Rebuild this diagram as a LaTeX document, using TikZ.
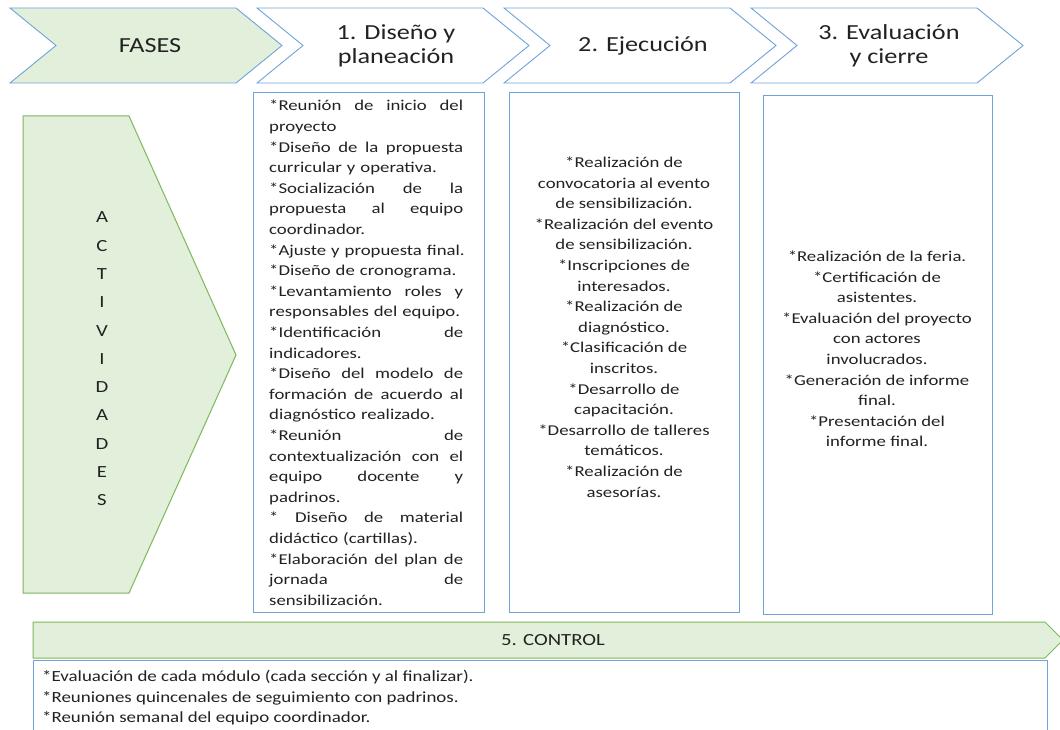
\documentclass[tikz,border=0pt]{standalone}
\usepackage{fontspec}
\setmainfont{Carlito}[FakeStretch=1.22]
\newfontfamily\listfont{Carlito}[FakeStretch=1.25]

\definecolor{phaseblue}{HTML}{6FA3DA}
\definecolor{leafgreen}{HTML}{7DB85A}
\definecolor{palegreen}{HTML}{E2EFDA}
\definecolor{ink}{HTML}{222222}

\newlength\colw
\setlength\colw{194pt}
% a fully justified line of the first column: spaces stretch to fill it
\newcommand\jline[1]{\leavevmode\hbox to\colw{\spaceskip=0.25em plus 1fil\relax #1}}
% the item marker
\newcommand\bul{*}

\tikzset{
  phase/.style={draw=phaseblue, line width=0.9pt, fill=white, line join=miter},
  phasegreen/.style={draw=phaseblue, line width=0.9pt, fill=palegreen},
  greenarrow/.style={draw=leafgreen, line width=1pt, fill=palegreen},
  listbox/.style={draw=phaseblue, line width=0.9pt, fill=white},
  headtext/.style={text=ink, inner sep=0pt, align=center, font=\fontsize{21.5}{24}\selectfont},
  itemtext/.style={text=ink, inner sep=0pt, font=\listfont\fontsize{15}{20.6}\selectfont},
}

\begin{document}
\begin{tikzpicture}[x=1pt, y=-1pt]
\clip (0,0) rectangle (1060,730);
\fill[white] (0,0) rectangle (1060,730);

% phase chevrons along the top
\draw[phasegreen] (10,8) -- (236,8) -- (282,45.5) -- (236,83) -- (10,83) -- (56,45.5) -- cycle;
\draw[phase] (257,8) -- (483,8) -- (529,45.5) -- (483,83) -- (257,83) -- (303,45.5) -- cycle;
\draw[phase] (504,8) -- (730,8) -- (776,45.5) -- (730,83) -- (504,83) -- (550,45.5) -- cycle;
\draw[phase] (751,8) -- (977,8) -- (1023,45.5) -- (977,83) -- (751,83) -- (797,45.5) -- cycle;

\node[headtext] (fases) at (150,45.5) {FASES};
\node[headtext] (ph1) at (396,45.5) {1. Diseño y\\planeación};
\node[headtext] (ph2) at (643,45.5) {2. Ejecución};
\node[headtext] (ph3) at (889,45.5) {3. Evaluación\\y cierre};

% activities arrow on the left
\draw[greenarrow] (23,116) -- (129,116) -- (236,355) -- (129,593) -- (23,593) -- cycle;
\node[text=ink, inner sep=0pt, align=center, font=\fontsize{17}{28.3}\selectfont] (act) at (102,359)
  {A\\C\\T\\I\\V\\I\\D\\A\\D\\E\\S};

% activity lists
\draw[listbox] (253,92) rectangle (484,612);
\draw[listbox] (509,92) rectangle (739,612);
\draw[listbox] (763,95) rectangle (992,614);

\node[itemtext, anchor=north west, text width=240pt, align=left] (list1) at (269,100) {%
\jline{\bul Reunión de inicio del}\\
proyecto\\
\jline{\bul Diseño de la propuesta}\\
curricular y operativa.\\
\jline{\bul Socialización de la}\\
\jline{propuesta al equipo}\\
coordinador.\\
\bul Ajuste y propuesta final.\\
\bul Diseño de cronograma.\\
\jline{\bul Levantamiento roles y}\\
responsables del equipo.\\
\jline{\bul Identificación de}\\
indicadores.\\
\jline{\bul Diseño del modelo de}\\
\jline{formación de acuerdo al}\\
diagnóstico realizado.\\
\jline{\bul Reunión de}\\
\jline{contextualización con el}\\
\jline{equipo docente y}\\
padrinos.\\
\jline{\bul{} Diseño de material}\\
didáctico (cartillas).\\
\jline{\bul Elaboración del plan de}\\
\jline{jornada de}\\
sensibilización.};

\node[itemtext, align=center] (list2) at (624,327) {%
\bul Realización de\\
convocatoria al evento\\
de sensibilización.\\
\bul Realización del evento\\
de sensibilización.\\
\bul Inscripciones de\\
interesados.\\
\bul Realización de\\
diagnóstico.\\
\bul Clasificación de\\
inscritos.\\
\bul Desarrollo de\\
capacitación.\\
\bul Desarrollo de talleres\\
temáticos.\\
\bul Realización de\\
asesorías.};

\node[itemtext, align=center] (list3) at (877,349) {%
\bul Realización de la feria.\\
\bul Certificación de\\
asistentes.\\
\bul Evaluación del proyecto\\
con actores\\
involucrados.\\
\bul Generación de informe\\
final.\\
\bul Presentación del\\
informe final.};

% control band and its list
\draw[greenarrow] (33,622) -- (1045,622) -- (1063,640) -- (1045,658) -- (33,658) -- cycle;
\node[text=ink, inner sep=0pt, font=\fontsize{17}{20}\selectfont] (control) at (553,640) {5. CONTROL};

\draw[listbox] (33,660) rectangle (1047,745);
\node[text=ink, inner sep=0pt, anchor=north west, align=left, font=\fontsize{15.5}{20.5}\selectfont] (ctrl) at (42,670) {%
\bul Evaluación de cada módulo (cada sección y al finalizar).\\
\bul Reuniones quincenales de seguimiento con padrinos.\\
\bul Reunión semanal del equipo coordinador.};
\end{tikzpicture}
\end{document}
